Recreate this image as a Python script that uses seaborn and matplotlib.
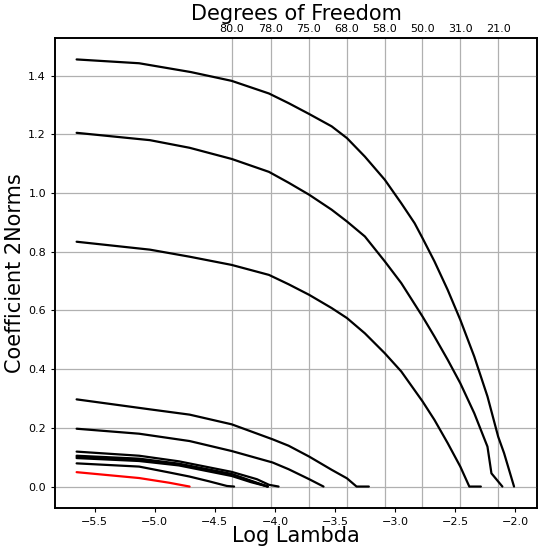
import pandas as pd
import matplotlib
matplotlib.use("Agg")
import matplotlib.pyplot as plt
import seaborn as sns

# coefficient group norms along the regularisation path
curve_a_x = [-5.65, -5.13, -4.70, -4.36, -4.05, -3.886, -3.715, -3.528, -3.401, -3.252, -3.086,
             -2.949, -2.838, -2.772, -2.673, -2.563, -2.458, -2.342, -2.232, -2.143, -2.094, -2.011]
curve_a_y = [1.455, 1.442, 1.412, 1.382, 1.339, 1.306, 1.269, 1.227, 1.187, 1.124, 1.045,
             0.965, 0.897, 0.846, 0.767, 0.670, 0.568, 0.443, 0.307, 0.170, 0.114, 0.0]

curve_b_x = [-5.65, -5.04, -4.71, -4.36, -4.05, -3.886, -3.715, -3.528, -3.401, -3.252, -3.086,
             -2.949, -2.772, -2.673, -2.563, -2.458, -2.342, -2.232, -2.199, -2.108]
curve_b_y = [1.205, 1.180, 1.154, 1.116, 1.072, 1.035, 0.994, 0.943, 0.903, 0.852, 0.767,
             0.693, 0.579, 0.511, 0.432, 0.352, 0.250, 0.136, 0.045, 0.0]

curve_c_x = [-5.65, -5.04, -4.71, -4.36, -4.05, -3.886, -3.715, -3.528, -3.401, -3.252, -3.086,
             -2.949, -2.772, -2.673, -2.563, -2.458, -2.383, -2.287]
curve_c_y = [0.834, 0.807, 0.783, 0.755, 0.721, 0.689, 0.653, 0.608, 0.574, 0.522, 0.454,
             0.392, 0.290, 0.227, 0.148, 0.068, 0.0, 0.0]

curve_d_x = [-5.65, -5.04, -4.71, -4.36, -4.02, -3.886, -3.715, -3.528, -3.401, -3.321, -3.219]
curve_d_y = [0.297, 0.263, 0.245, 0.212, 0.161, 0.139, 0.102, 0.057, 0.028, 0.0, 0.0]

curve_e_x = [-5.65, -5.13, -4.71, -4.36, -4.02, -3.886, -3.715, -3.596]
curve_e_y = [0.197, 0.180, 0.155, 0.121, 0.082, 0.059, 0.025, 0.0]

curve_f_x = [-5.65, -5.13, -4.80, -4.36, -4.15, -4.05, -3.97]
curve_f_y = [0.119, 0.105, 0.086, 0.050, 0.025, 0.006, 0.0]

bundle_x = [-5.65, -5.13, -4.80, -4.36, -4.20, -4.06]
curve_g_y = [0.105, 0.095, 0.078, 0.043, 0.020, 0.0]
curve_h_y = [0.101, 0.091, 0.075, 0.040, 0.018, 0.0]
curve_i_y = [0.097, 0.087, 0.072, 0.036, 0.015, 0.0]

curve_j_x = [-5.65, -5.13, -4.88, -4.71, -4.55, -4.40, -4.34]
curve_j_y = [0.079, 0.068, 0.048, 0.034, 0.018, 0.002, 0.0]

curve_red_x = [-5.65, -5.13, -4.88, -4.75, -4.71]
curve_red_y = [0.049, 0.029, 0.013, 0.003, 0.0]

# degrees of freedom shown on the top axis
df_positions = [-4.357, -4.037, -3.720, -3.404, -3.086, -2.775, -2.457, -2.143]
df_labels = ["80.0", "78.0", "75.0", "68.0", "58.0", "50.0", "31.0", "21.0"]

curves = {
    "a": (curve_a_x, curve_a_y),
    "b": (curve_b_x, curve_b_y),
    "c": (curve_c_x, curve_c_y),
    "d": (curve_d_x, curve_d_y),
    "e": (curve_e_x, curve_e_y),
    "f": (curve_f_x, curve_f_y),
    "g": (bundle_x, curve_g_y),
    "h": (bundle_x, curve_h_y),
    "i": (bundle_x, curve_i_y),
    "j": (curve_j_x, curve_j_y),
    "red": (curve_red_x, curve_red_y),
}

rows = []
for name, (xs, ys) in curves.items():
    for i, (x, y) in enumerate(zip(xs, ys)):
        rows.append({"curve": name, "step": i, "loglam": x, "norm": y})
data = pd.DataFrame(rows)
palette = {name: ("red" if name == "red" else "black") for name in curves}

sns.set_theme(style="ticks")
plt.rcParams["font.family"] = ["DejaVu Sans"]

fig = plt.figure(figsize=(5.46, 5.5), dpi=100)
ax = fig.add_axes([0.1007, 0.0764, 0.8828, 0.8545])
ax2 = ax.twiny()

sns.lineplot(data=data, x="loglam", y="norm", hue="curve", palette=palette,
             units="curve", estimator=None, sort=False, legend=False,
             linewidth=1.6, ax=ax)

ax.set_xlim(-5.83, -1.82)
ax.set_ylim(-0.073, 1.528)
ax.set_xticks([-5.5, -5.0, -4.5, -4.0, -3.5, -3.0, -2.5, -2.0])
ax.set_yticks([0.0, 0.2, 0.4, 0.6, 0.8, 1.0, 1.2, 1.4])
ax.tick_params(labelsize=8, length=3, width=0.8, color="black", labelcolor="black")
ax.yaxis.grid(True, color="#b0b0b0", linewidth=0.9)
ax.set_xlabel("Log Lambda", fontsize=15, color="black", labelpad=-1)
ax.set_ylabel("Coefficient 2Norms", fontsize=15, color="black", labelpad=2)

ax2.set_xlim(ax.get_xlim())
ax2.set_xticks(df_positions)
ax2.set_xticklabels(df_labels)
ax2.tick_params(axis="x", labelsize=8, length=0, pad=3, labelcolor="black")
ax2.xaxis.grid(True, color="#b0b0b0", linewidth=0.9)
ax2.set_xlabel("Degrees of Freedom", fontsize=15, color="black", labelpad=3)

ax.set_zorder(ax2.get_zorder() + 1)
ax.patch.set_visible(False)

for a in (ax, ax2):
    for s in a.spines.values():
        s.set_color("black")
        s.set_linewidth(1.2)

fig.savefig("out.png", dpi=100)
plt.close(fig)
